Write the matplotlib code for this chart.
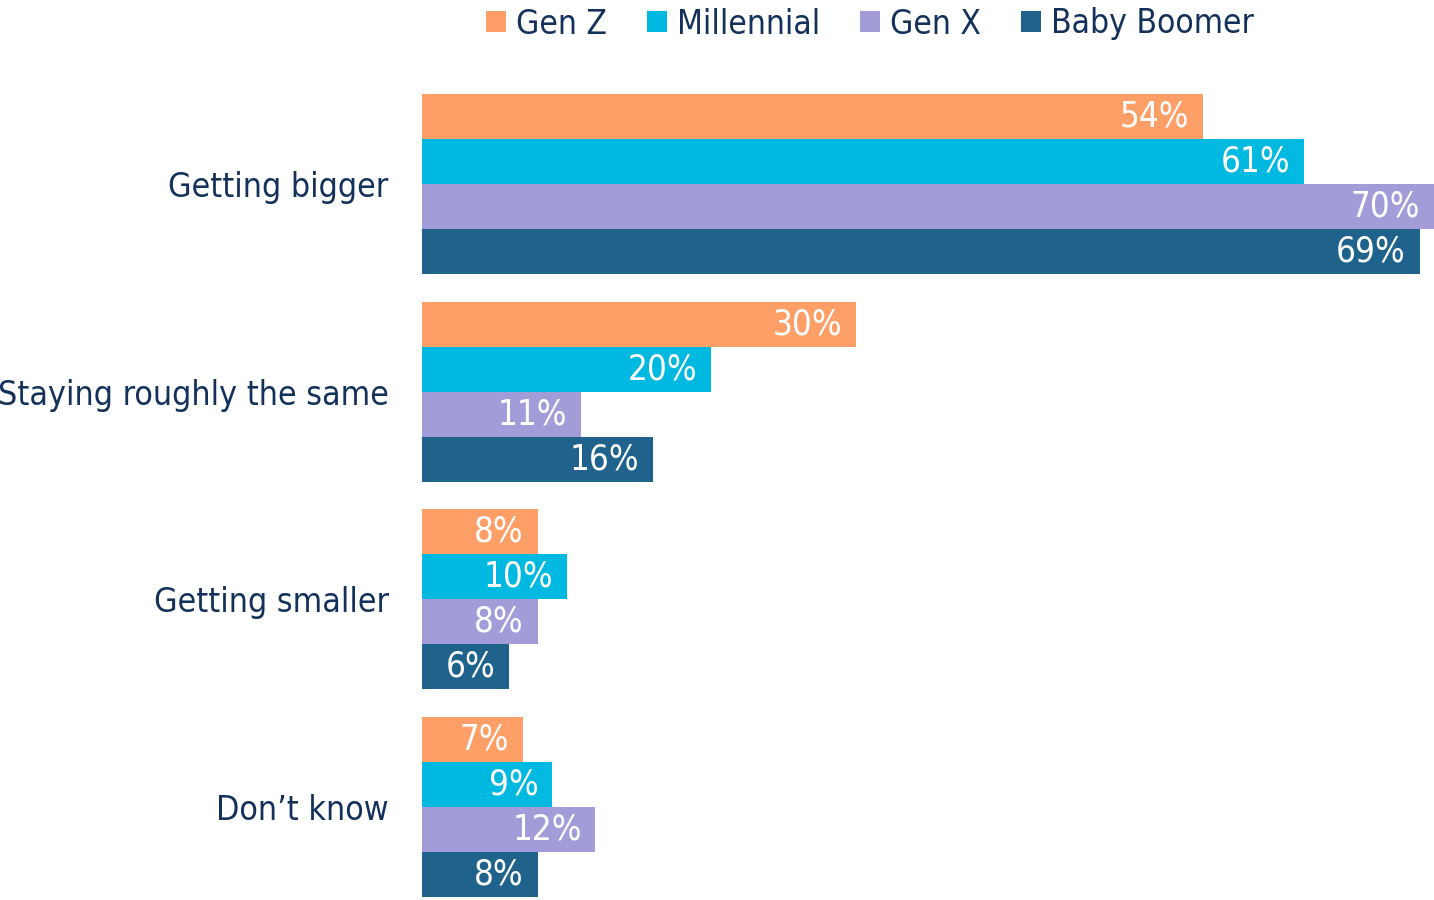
import matplotlib
matplotlib.use("Agg")
import matplotlib.pyplot as plt
import numpy as np
from matplotlib.patches import Patch

categories = ["Getting bigger", "Staying roughly the same", "Getting smaller", "Don\u2019t know"]
series = ["Gen Z", "Millennial", "Gen X", "Baby Boomer"]
gen_z = [54, 30, 8, 7]
millennial = [61, 20, 10, 9]
gen_x = [70, 11, 8, 12]
baby_boomer = [69, 16, 6, 8]
values = [gen_z, millennial, gen_x, baby_boomer]
colors = ["#FF9F68", "#00B9E0", "#A29DD8", "#1F628C"]
text_color = "#13315A"

plt.rcParams['font.family'] = ['DejaVu Sans']
plt.rcParams['font.stretch'] = 'condensed'

fig = plt.figure(figsize=(14.34, 9.0), dpi=100)
ax = fig.add_axes([422/1434, 3/900, 1 - 422/1434, (897-94)/900])

y = np.arange(len(categories))
h = 45/207.7
offsets = [-1.5*h, -0.5*h, 0.5*h, 1.5*h]
for vals, off, col in zip(values, offsets, colors):
    bars = ax.barh(y + off, vals, height=h, color=col, edgecolor='none')
    for b, v in zip(bars, vals):
        ax.text(b.get_width() - 0.95, b.get_y() + b.get_height()/2, f"{v}%",
                ha='right', va='center', color='white', fontsize=25)

ax.set_xlim(0, 70)
ax.set_ylim(3 + 2*h, -2*h)
ax.set_yticks(y)
ax.set_yticklabels(categories, fontsize=24.3, color=text_color)
ax.tick_params(axis='y', length=0, pad=24)
ax.set_xticks([])
for s in ax.spines.values():
    s.set_visible(False)

handles = [Patch(facecolor=c, edgecolor='none') for c in colors]
leg = fig.legend(handles, series, loc='center', bbox_to_anchor=(870/1434, 1 - 24/900),
                 ncol=4, frameon=False, fontsize=24, handlelength=0.6, handleheight=0.6,
                 handletextpad=0.3, columnspacing=1.2, labelcolor=text_color)

fig.savefig("out.png", dpi=100)
